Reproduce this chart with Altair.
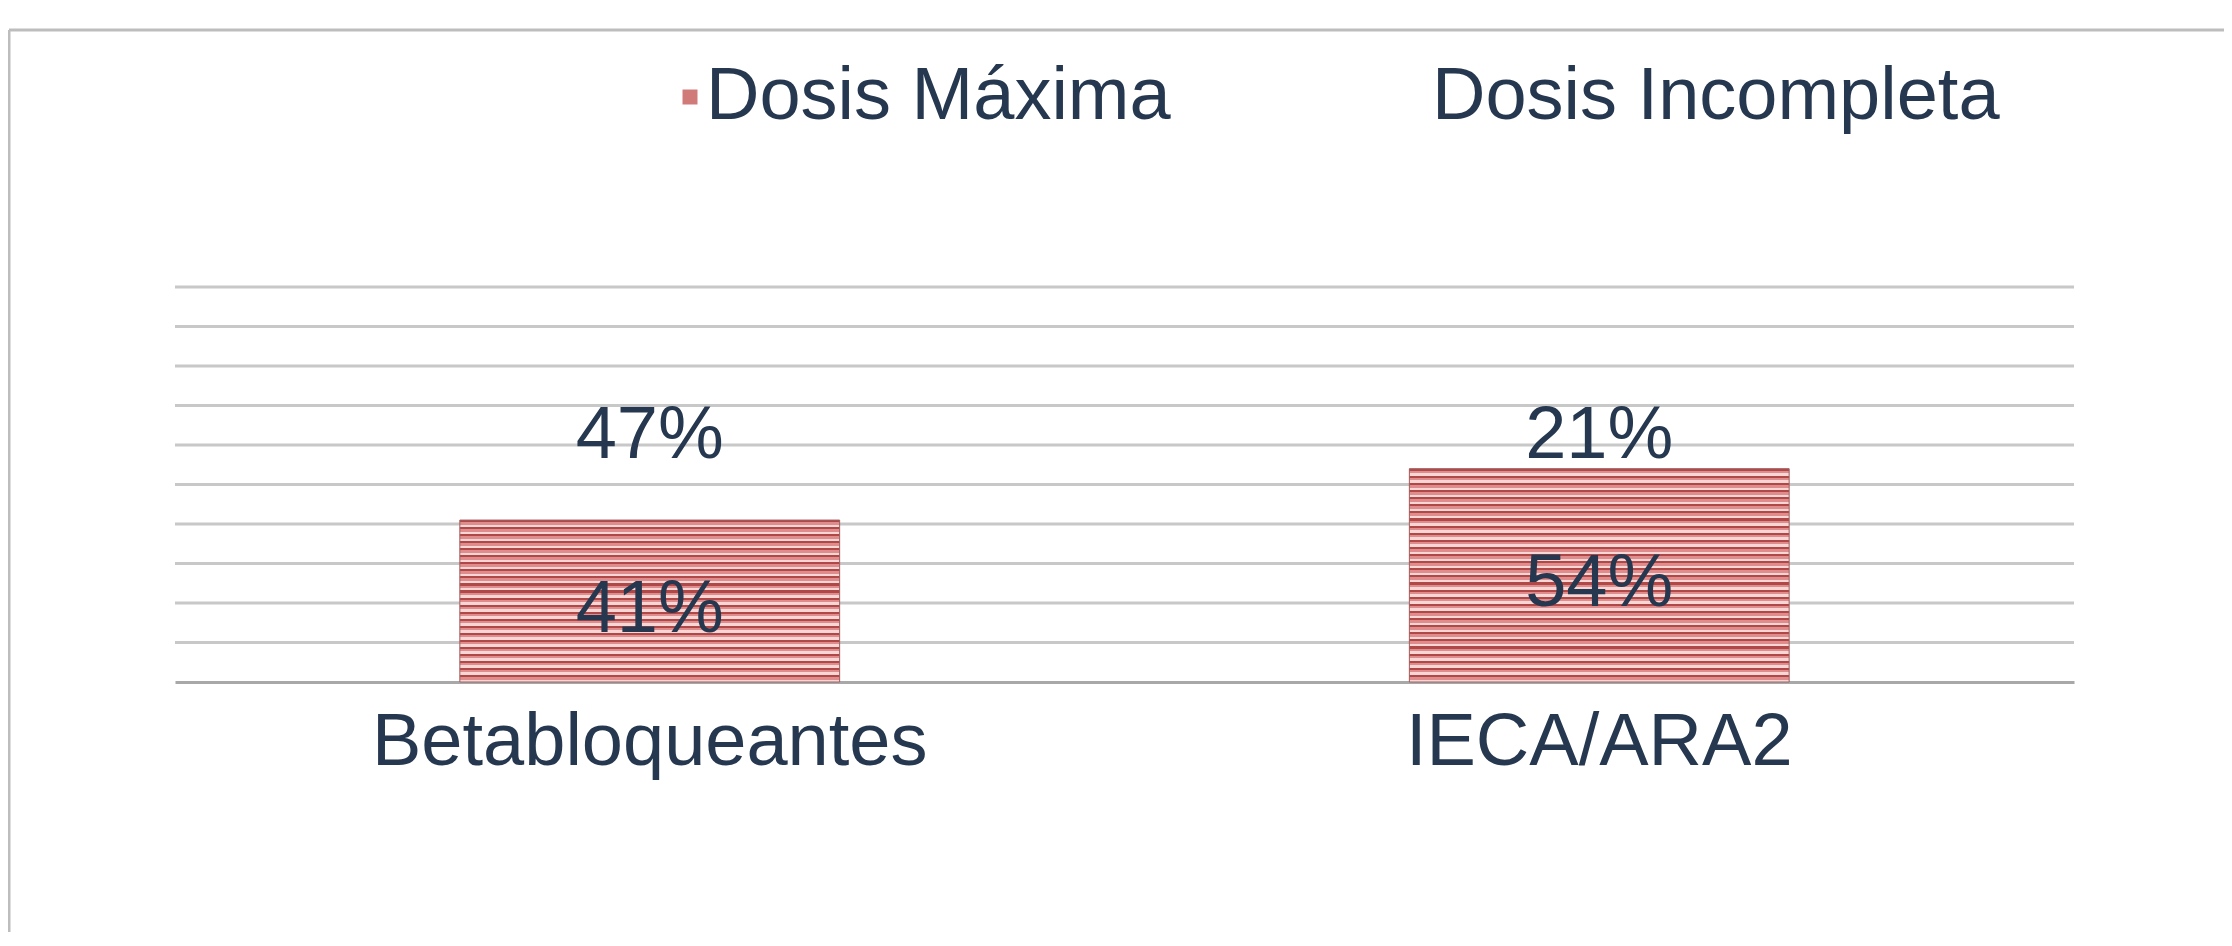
import altair as alt
import pandas as pd

categories = ["Betabloqueantes", "IECA/ARA2"]
series_names = ["Dosis Máxima", "Dosis Incompleta"]
dosis_maxima = [41, 54]
dosis_incompleta = [47, 21]
grid_values = [10, 20, 30, 40, 50, 60, 70, 80, 90, 100]

rows = []
for i, c in enumerate(categories):
    rows.append({"cat": c, "series": series_names[0], "value": dosis_maxima[i], "order": 0})
    rows.append({"cat": c, "series": series_names[1], "value": dosis_incompleta[i], "order": 1})
df = pd.DataFrame(rows)

FONT = "Liberation Sans"
TEXT = "#263850"
PLOT_W, PLOT_H = 1899, 395
FS = 74

base = alt.Chart(df).transform_stack(
    stack="value", groupby=["cat"], sort=[alt.SortField("order")], as_=["y0", "y1"]
).transform_calculate(
    mid="(datum.y0 + datum.y1) / 2", label="datum.value + '%'"
)

x = alt.X(
    "cat:N", sort=categories,
    scale=alt.Scale(paddingInner=0.6, paddingOuter=0.3),
    axis=alt.Axis(title=None, labelFontSize=FS, labelFont=FONT, labelColor=TEXT,
                  labelPadding=24, ticks=False, domainColor="#a8a8a8", domainWidth=3,
                  labelAngle=0, labelLimit=1000, grid=False),
)
yscale = alt.Scale(domain=[0, 100], nice=False)

grid = alt.Chart(pd.DataFrame({"v": grid_values})).mark_rule(
    color="#c8c8c8", strokeWidth=3
).encode(y=alt.Y("v:Q", scale=yscale, axis=None))

bars = base.mark_bar().encode(
    x=x,
    y=alt.Y("y1:Q", scale=yscale, axis=None),
    y2="y0:Q",
    color=alt.Color(
        "series:N",
        scale=alt.Scale(domain=series_names, range=["#d07a7a", "transparent"]),
        legend=alt.Legend(orient="none", legendX=478, legendY=-227, direction="horizontal",
                          columns=2, columnPadding=208, title=None, symbolType="square",
                          symbolSize=225, symbolStrokeWidth=0,
                          labelFontSize=FS, labelFont=FONT, labelColor=TEXT,
                          labelOffset=alt.ExprRef(expr="-21"), padding=0, labelLimit=1000),
    ),
)


def stripes(value):
    h = value / 100.0 * PLOT_H
    n = max(1, round(h / 7.0))
    stops = []
    for i in range(n):
        a = i / n
        stops += [
            alt.GradientStop(offset=a, color="#b04848"),
            alt.GradientStop(offset=a + 0.3 / n, color="#b04848"),
            alt.GradientStop(offset=a + 0.3 / n, color="#e08c8c"),
            alt.GradientStop(offset=a + 0.65 / n, color="#e08c8c"),
            alt.GradientStop(offset=a + 0.65 / n, color="#f7d6d6"),
            alt.GradientStop(offset=(i + 1) / n, color="#f7d6d6"),
        ]
    return alt.LinearGradient(gradient="linear", stops=stops, x1=0, x2=0, y1=0, y2=1)


stripe_layers = []
for i, c in enumerate(categories):
    stripe_layers.append(
        base.transform_filter(f"datum.cat == '{c}' && datum.order == 0")
        .mark_bar(fill=stripes(dosis_maxima[i]), stroke="#a06060", strokeWidth=1)
        .encode(x=x, y=alt.Y("y1:Q", scale=yscale, axis=None), y2="y0:Q")
    )

labels = base.mark_text(font=FONT, fontSize=FS, color=TEXT, baseline="middle", dy=9).encode(
    x=x, y=alt.Y("mid:Q", scale=yscale, axis=None), text="label:N"
)

border_df = pd.DataFrame({"a": [0]})
top_border = alt.Chart(border_df).mark_rule(color="#bdbdbd", strokeWidth=3).encode(
    x=alt.value(-166), x2=alt.value(PLOT_W + 150), y=alt.value(-257)
)
left_border = alt.Chart(border_df).mark_rule(color="#bdbdbd", strokeWidth=3).encode(
    x=alt.value(-166), y=alt.value(-257), y2=alt.value(PLOT_H + 250)
)

chart = alt.layer(grid, bars, *stripe_layers, labels, top_border, left_border).properties(
    width=PLOT_W, height=PLOT_H,
    autosize=alt.AutoSizeParams(type="none"),
    padding={"left": 167, "top": 279, "right": 150, "bottom": 250},
).configure_view(strokeWidth=0)

chart.save("out.html", embed_options={"renderer": "svg", "actions": False})
